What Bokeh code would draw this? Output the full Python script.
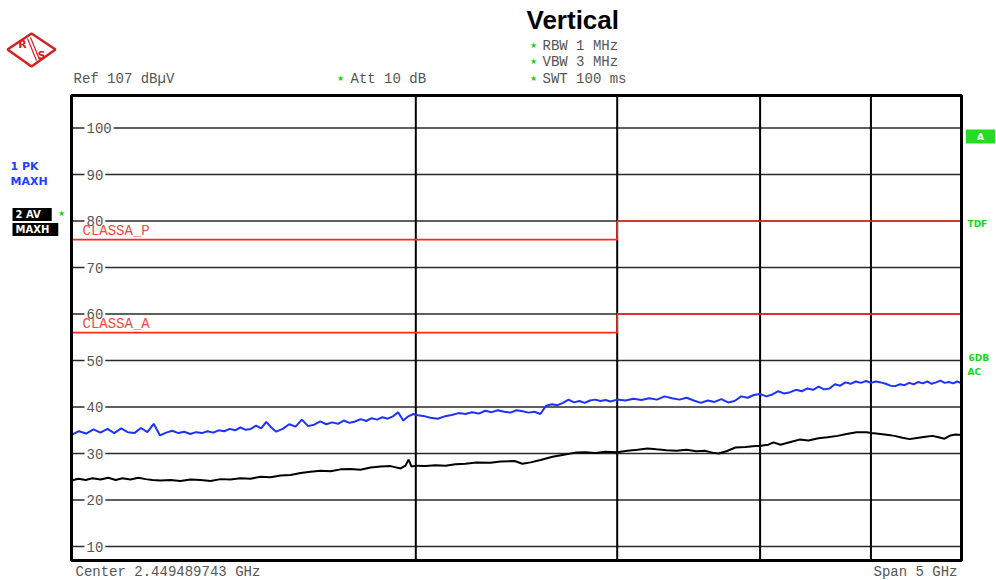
from bokeh.plotting import figure
from bokeh.models import Range1d, Label, PolyAnnotation
from bokeh.embed import file_html
from bokeh.resources import INLINE

# ---------------- data ----------------
# trace 1: PK / MAXH (blue), frequency in GHz, level in dBµV
pk_freq = [1.000, 1.015, 1.030, 1.045, 1.060, 1.075, 1.090, 1.105, 1.120, 1.135, 1.150, 1.165,
           1.180, 1.195, 1.210, 1.225, 1.240, 1.255, 1.270, 1.285, 1.300, 1.315, 1.330, 1.345,
           1.360, 1.375, 1.390, 1.405, 1.420, 1.435, 1.450, 1.465, 1.480, 1.495, 1.510, 1.530,
           1.550, 1.570, 1.590, 1.610, 1.630, 1.650, 1.670, 1.690, 1.710, 1.730, 1.750, 1.770,
           1.790, 1.810, 1.830, 1.850, 1.870, 1.890, 1.910, 1.930, 1.950, 1.970, 1.990, 2.000,
           2.030, 2.060, 2.090, 2.120, 2.150, 2.180, 2.210, 2.240, 2.270, 2.300, 2.330, 2.360,
           2.390, 2.420, 2.450, 2.480, 2.510, 2.540, 2.570, 2.600, 2.630, 2.660, 2.690, 2.720,
           2.750, 2.780, 2.810, 2.840, 2.870, 2.900, 2.930, 2.960, 3.000, 3.050, 3.100, 3.150,
           3.200, 3.250, 3.300, 3.350, 3.400, 3.450, 3.500, 3.550, 3.600, 3.650, 3.700, 3.750,
           3.800, 3.850, 3.900, 3.950, 4.000, 4.050, 4.100, 4.150, 4.200, 4.250, 4.300, 4.350,
           4.400, 4.450, 4.500, 4.550, 4.600, 4.650, 4.700, 4.750, 4.800, 4.850, 4.900, 4.950,
           5.000, 5.050, 5.100, 5.150, 5.200, 5.250, 5.300, 5.350, 5.400, 5.450, 5.500, 5.550,
           5.600, 5.650, 5.700, 5.750, 5.800, 5.850, 5.900, 5.950, 6.000]
pk_level = [34.0, 34.8, 34.3, 35.2, 34.5, 35.3, 34.4, 35.4, 34.6, 34.4, 35.5, 34.6,
            36.4, 33.9, 34.5, 34.9, 34.4, 34.7, 34.2, 34.6, 34.4, 34.8, 34.5, 35.0,
            34.8, 35.3, 35.0, 35.6, 35.1, 35.3, 36.0, 35.4, 36.8, 35.6, 34.7, 35.3,
            36.3, 35.8, 37.3, 35.9, 36.2, 36.9, 36.3, 36.7, 36.4, 37.1, 36.6, 36.9,
            37.4, 37.0, 37.6, 37.3, 37.8, 37.5, 38.0, 38.9, 37.1, 38.0, 38.5, 38.3,
            38.1, 37.7, 37.5, 38.0, 38.3, 38.7, 38.5, 38.9, 38.6, 39.2, 38.9, 39.3,
            39.0, 38.8, 39.3, 39.1, 38.8, 39.0, 38.5, 40.3, 40.6, 40.4, 40.9, 41.6,
            41.0, 41.3, 40.9, 41.4, 41.6, 41.3, 41.5, 41.2, 41.6, 41.4, 41.8, 41.5,
            41.9, 41.6, 42.3, 41.9, 41.6, 42.0, 41.4, 40.9, 41.4, 41.1, 41.7, 41.0,
            41.3, 42.3, 42.0, 42.6, 42.8, 42.3, 42.7, 43.4, 42.9, 43.2, 43.7, 43.4,
            44.0, 43.7, 44.4, 43.8, 44.0, 44.9, 44.6, 45.3, 45.0, 45.5, 45.2, 45.6,
            45.2, 45.5, 45.3, 45.0, 44.6, 44.5, 44.9, 44.7, 45.2, 44.9, 45.4, 45.1,
            45.5, 45.0, 45.3, 45.7, 45.2, 45.4, 45.1, 45.5, 45.1]

# trace 2: AV / MAXH (black)
av_freq = [1.000, 1.014, 1.029, 1.043, 1.060, 1.077, 1.093, 1.108, 1.126, 1.144, 1.161, 1.177,
           1.196, 1.221, 1.245, 1.271, 1.297, 1.323, 1.350, 1.377, 1.405, 1.434, 1.463, 1.493,
           1.523, 1.554, 1.586, 1.618, 1.651, 1.685, 1.719, 1.754, 1.789, 1.826, 1.863, 1.901,
           1.940, 1.959, 1.971, 1.983, 2.000, 2.039, 2.081, 2.123, 2.166, 2.210, 2.260, 2.325,
           2.372, 2.440, 2.479, 2.520, 2.571, 2.634, 2.687, 2.759, 2.815, 2.872, 2.930, 3.000,
           3.063, 3.125, 3.189, 3.247, 3.313, 3.381, 3.449, 3.519, 3.577, 3.635, 3.679, 3.738,
           3.807, 3.884, 3.963, 4.011, 4.068, 4.110, 4.168, 4.253, 4.330, 4.409, 4.499, 4.581,
           4.675, 4.760, 4.857, 4.956, 5.006, 5.097, 5.180, 5.243, 5.328, 5.404, 5.503, 5.581,
           5.660, 5.729, 5.798, 5.869, 5.928, 6.000]
av_level = [24.2, 24.6, 24.3, 24.7, 24.4, 24.8, 24.3, 24.7, 24.4, 24.8, 24.5, 24.3,
            24.2, 24.3, 24.1, 24.4, 24.3, 24.1, 24.5, 24.4, 24.7, 24.6, 25.0, 24.9,
            25.3, 25.4, 25.8, 26.1, 26.3, 26.2, 26.6, 26.7, 26.5, 27.0, 27.2, 27.3,
            26.8, 27.4, 28.7, 27.2, 27.4, 27.3, 27.5, 27.4, 27.7, 27.8, 28.1, 28.0,
            28.3, 28.4, 27.8, 28.1, 28.6, 29.3, 29.7, 30.2, 30.3, 30.1, 30.4, 30.3,
            30.6, 30.8, 31.1, 30.9, 30.7, 30.6, 30.8, 30.5, 30.6, 30.2, 30.0, 30.5,
            31.3, 31.4, 31.6, 31.7, 31.9, 32.4, 31.9, 32.5, 33.0, 32.8, 33.3, 33.5,
            33.8, 34.2, 34.6, 34.6, 34.4, 34.2, 34.0, 33.8, 33.4, 33.1, 33.4, 33.6,
            33.8, 33.5, 33.2, 33.9, 34.1, 34.0]

# limit lines
limit_freq = [1.0, 3.0, 3.0, 6.0]
classa_p = [76, 76, 80, 80]
classa_a = [56, 56, 60, 60]

freq_start, freq_stop = 1.0, 6.0      # GHz (log sweep, center 2.449489743 GHz)
level_bottom, level_ref = 7, 107      # dBµV
y_ticks = [10, 20, 30, 40, 50, 60, 70, 80, 90, 100]
y_tick_labels = ["10", "20", "30", "40", "50", "60", "70", "80", "90", "100"]
x_grid = [2, 3, 4, 5]

# ------------- layout helpers (page pixel -> data) -------------
FRAME_L, FRAME_R, FRAME_T, FRAME_B = 71, 961, 95, 560


def dx(px):
    return freq_start * (freq_stop / freq_start) ** ((px - FRAME_L) / (FRAME_R - FRAME_L))


def dy(py):
    return level_ref - (py - FRAME_T) * (level_ref - level_bottom) / (FRAME_B - FRAME_T)


W, H = 996, 580
p = figure(width=W, height=H, x_axis_type="log",
           x_range=Range1d(dx(0), dx(W)), y_range=Range1d(dy(H), dy(0)),
           x_axis_location=None, y_axis_location=None, title=None,
           toolbar_location=None, output_backend="svg",
           min_border_left=0, min_border_right=0, min_border_top=0, min_border_bottom=0)
p.background_fill_color = "white"
p.border_fill_color = "white"
p.outline_line_color = None
p.grid.visible = False

# grid of the measurement diagram
p.segment(x0=freq_start, x1=freq_stop, y0=y_ticks, y1=y_ticks, line_color="#2a2a2a", line_width=1.6)
p.segment(x0=x_grid, x1=x_grid, y0=level_bottom, y1=level_ref, line_color="black", line_width=2)

# limit lines
p.line(limit_freq, classa_p, color="#ff2a1a", line_width=1.6)
p.line(limit_freq, classa_a, color="#ff2a1a", line_width=1.6)

# traces
p.line(pk_freq, pk_level, color="#1e32ff", line_width=2)
p.line(av_freq, av_level, color="black", line_width=2)

# frame border
p.quad(left=[freq_start], right=[freq_stop], bottom=[level_bottom], top=[level_ref],
       fill_color=None, line_color="black", line_width=3)

MONO = "Liberation Mono"
GREY = "#555555"
GREEN = "#19d419"
LOGO = "#d42020"


def lab(px, py, text, size="14px", color=GREY, font=MONO, style="normal", align="left",
        baseline="middle", bg=None, pad=0, angle=0):
    p.add_layout(Label(x=dx(px), y=dy(py), text=text, text_font=font, text_font_size=size,
                       text_color=color, text_font_style=style, text_align=align,
                       text_baseline=baseline, background_fill_color=bg, padding=pad,
                       angle=angle))


# y tick labels inside the frame
for v, t in zip(y_ticks, y_tick_labels):
    p.add_layout(Label(x=dx(84), y=v, text=t, text_font=MONO, text_font_size="14px",
                       text_color=GREY, text_align="left", text_baseline="middle",
                       background_fill_color="white", padding=2))

# limit labels
lab(82, 230, "CLASSA_P", color="#f04a3a")
lab(82, 323, "CLASSA_A", color="#f04a3a")

# header
lab(526, 19, "Vertical", size="26px", color="black", font="Liberation Sans", style="bold")
for yy in (45, 61, 78):
    lab(533, yy, "★", size="8px", color=GREEN, font="DejaVu Sans", align="center")
lab(542, 45, "RBW 1 MHz")
lab(542, 61, "VBW 3 MHz")
lab(542, 78, "SWT 100 ms")
lab(73, 78, "Ref 107 dBµV")
lab(340, 78, "★", size="8px", color=GREEN, font="DejaVu Sans", align="center")
lab(350, 78, "Att 10 dB")

# bottom
lab(75, 571, "Center 2.449489743 GHz")
lab(957, 571, "Span 5 GHz", align="right")

# left trace legends
BLUE = "#2040ff"
lab(10, 166, "1 PK", size="11px", color=BLUE, font="DejaVu Sans", style="bold")
lab(10, 181, "MAXH", size="11px", color=BLUE, font="DejaVu Sans", style="bold")
lab(12, 214, "2 AV", size="10px", color="white", font="DejaVu Sans", style="bold",
    bg="black", pad=dict(left=3, right=11, top=1, bottom=1))
lab(12, 229, "MAXH", size="10px", color="white", font="DejaVu Sans", style="bold",
    bg="black", pad=dict(left=3, right=9, top=1, bottom=1))
lab(61, 213, "★", size="8px", color=GREEN, font="DejaVu Sans", align="center")

# right side markers
p.add_layout(Label(x=dx(980), y=dy(136), text="A", text_font="DejaVu Sans", text_font_size="9px",
                   text_color="white", text_font_style="bold", text_align="center",
                   text_baseline="middle", background_fill_color="#22dd22",
                   padding=dict(left=11, right=11, top=2, bottom=2)))
lab(967, 223, "TDF", size="9px", color=GREEN, font="DejaVu Sans", style="bold")
lab(968, 357, "6DB", size="9px", color=GREEN, font="DejaVu Sans", style="bold")
lab(967, 371, "AC", size="9px", color=GREEN, font="DejaVu Sans", style="bold")

# logo (R&S diamond)
p.add_layout(PolyAnnotation(xs=[dx(7), dx(31), dx(55), dx(31)], ys=[dy(49), dy(33), dy(49), dy(66)],
                            fill_alpha=0, line_color=LOGO, line_alpha=1, line_width=2.5))
for (ax0, ay0, ax1, ay1) in ((27, 38, 36, 60), (30, 37, 39, 59)):
    p.add_layout(PolyAnnotation(xs=[dx(ax0), dx(ax1)], ys=[dy(ay0), dy(ay1)], fill_alpha=0,
                                line_color=LOGO, line_alpha=1, line_width=1.2))
lab(22, 44, "R", size="11px", color=LOGO, font="DejaVu Sans", style="bold", align="center")
lab(41, 55, "S", size="11px", color=LOGO, font="DejaVu Sans", style="bold", align="center")

open("out.html", "w").write(file_html(p, INLINE))
